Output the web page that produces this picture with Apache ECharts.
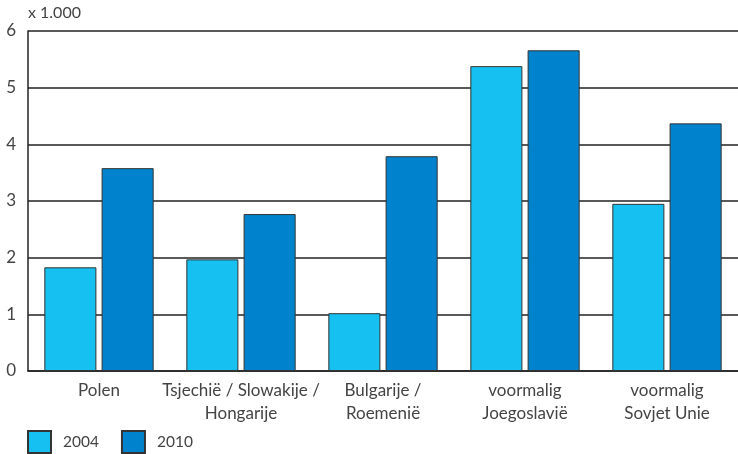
<!DOCTYPE html>
<html><head><meta charset="utf-8">
<script src="https://cdn.jsdelivr.net/npm/echarts@6/dist/echarts.min.js"></script>
<style>html,body{margin:0;padding:0;background:#fff}#c{width:738px;height:454px}</style>
</head><body><div id="c"></div>
<script>
const categories = ['Polen', 'Tsjechië / Slowakije /\nHongarije', 'Bulgarije /\nRoemenië', 'voormalig\nJoegoslavië', 'voormalig\nSovjet Unie'];
const values2004 = [1.83, 1.97, 1.02, 5.38, 2.95];
const values2010 = [3.58, 2.77, 3.79, 5.66, 4.37];
const yTicks = [0, 1, 2, 3, 4, 5, 6];

const font = 'Lato, "Noto Sans", sans-serif';
const chart = echarts.init(document.getElementById('c'));
chart.setOption({
  animation: false,
  textStyle: {fontFamily: font},
  grid: {left: 28, right: 0, top: 31, bottom: 83, containLabel: false},
  legend: {
    left: 22, top: 425, itemWidth: 23, itemHeight: 22, itemGap: 22,
    icon: 'rect',
    textStyle: {fontSize: 15.5, color: '#444', fontFamily: font, padding: [0, 0, 0, 7]},
    data: ['2004', '2010']
  },
  graphic: [{type: 'text', left: 28, top: 5, style: {text: 'x 1.000', fontSize: 16, fill: '#444', fontFamily: font}}],
  xAxis: {
    type: 'category', data: categories,
    axisLine: {lineStyle: {color: '#222', width: 1.5}},
    axisTick: {show: false},
    axisLabel: {interval: 0, fontSize: 17, color: '#444', lineHeight: 23, margin: 8, fontFamily: font}
  },
  yAxis: {
    type: 'value', min: 0, max: 6, interval: 1,
    axisLine: {show: true, lineStyle: {color: '#222', width: 1.5}},
    axisTick: {show: false},
    splitLine: {lineStyle: {color: '#222', width: 1.5}},
    axisLabel: {fontSize: 17, color: '#444', margin: 12, fontFamily: font,
      formatter: v => yTicks.includes(v) ? String(v) : ''}
  },
  series: [
    {name: '2004', type: 'bar', data: values2004, barGap: '10%', barCategoryGap: '23%',
     itemStyle: {color: '#16c0f0', borderColor: '#333', borderWidth: 1}},
    {name: '2010', type: 'bar', data: values2010,
     itemStyle: {color: '#0083cc', borderColor: '#333', borderWidth: 1}}
  ]
});
</script></body></html>
